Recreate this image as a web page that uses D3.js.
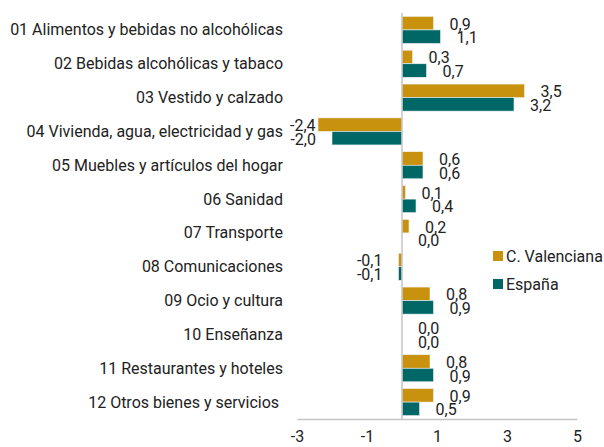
<!DOCTYPE html>
<html><head><meta charset="utf-8">
<script src="https://cdn.jsdelivr.net/npm/d3@7"></script>
<style>
body{margin:0;background:#fff;}
text{font-family:Roboto,"Noto Sans",sans-serif;fill:#222;}
</style></head>
<body>
<svg id="chart" width="604" height="447"></svg>
<script>
const categories = [
  "01 Alimentos y bebidas no alcohólicas",
  "02 Bebidas alcohólicas y tabaco",
  "03 Vestido y calzado",
  "04 Vivienda, agua, electricidad y gas",
  "05 Muebles y artículos del hogar",
  "06 Sanidad",
  "07 Transporte",
  "08 Comunicaciones",
  "09 Ocio y cultura",
  "10 Enseñanza",
  "11 Restaurantes y hoteles",
  "12 Otros bienes y servicios "
];
const seriesNames = ["C. Valenciana", "España"];
const valenciana = [0.9, 0.3, 3.5, -2.4, 0.6, 0.1, 0.2, -0.1, 0.8, 0.0, 0.8, 0.9];
const espana     = [1.1, 0.7, 3.2, -2.0, 0.6, 0.4, 0.0, -0.1, 0.9, 0.0, 0.9, 0.5];
const xTicks = [-3, -1, 1, 3, 5];
const colors = ["#C9920E", "#006767"];
const FS = 16;

const svg = d3.select("#chart");
const x = d3.scaleLinear().domain([-3, 5]).range([297, 577]);
const y = d3.scaleBand().domain(categories).range([13, 419]).paddingInner(0.2).paddingOuter(0.1);
const ys = d3.scaleBand().domain(seriesNames).range([0, y.bandwidth()]);
const fmt = v => d3.format(".1f")(v).replace(".", ",").replace("−", "-");

const data = [valenciana, espana];

// bars
seriesNames.forEach((s, si) => {
  svg.append("g").selectAll("rect").data(categories).join("rect")
    .attr("x", (c, i) => x(Math.min(0, data[si][i])))
    .attr("y", c => y(c) + ys(s))
    .attr("width", (c, i) => Math.abs(x(data[si][i]) - x(0)))
    .attr("height", ys.bandwidth())
    .attr("fill", colors[si])
    .attr("stroke", "#f2f2f2").attr("stroke-width", 0.6);
});

// zero line
svg.append("line").attr("x1", x(0)).attr("x2", x(0)).attr("y1", 13).attr("y2", 419)
  .attr("stroke", "#c4c4c4").attr("stroke-width", 1.5);

// x axis
const xAxis = d3.axisBottom(x).tickValues(xTicks).tickSize(0).tickPadding(12).tickFormat(d => String(d).replace("−","-"));
const gx = svg.append("g").attr("transform", "translate(0,419)").call(xAxis);
gx.select(".domain").attr("stroke", "#c4c4c4").attr("stroke-width", 1.5);
gx.selectAll("text").attr("font-size", FS).attr("fill", "#222").attr("font-family", "Roboto");

// category labels
svg.append("g").selectAll("text").data(categories).join("text")
  .attr("x", 283).attr("y", c => y(c) + y.bandwidth() / 2)
  .attr("text-anchor", "end").attr("dominant-baseline", "central")
  .attr("font-size", FS).style("white-space", "pre")
  .text(c => c);

// value labels
seriesNames.forEach((s, si) => {
  svg.append("g").selectAll("text").data(categories).join("text")
    .attr("y", c => y(c) + ys(s) + ys.bandwidth() / 2 + 1)
    .attr("dominant-baseline", "central")
    .attr("font-size", FS)
    .text((c, i) => fmt(data[si][i]))
    .each(function (c, i) {
      const v = data[si][i];
      const t = d3.select(this);
      if (v >= 0) {
        t.attr("x", x(v) + 16).attr("text-anchor", "start");
      } else {
        const w = this.getComputedTextLength();
        t.attr("x", Math.max(x(v) - 16, x(-3) - 7 + w)).attr("text-anchor", "end");
      }
    });
});

// legend
const lg = svg.append("g");
seriesNames.forEach((s, si) => {
  const ly = 256 + si * 28;
  lg.append("rect").attr("x", 493).attr("y", ly - 5).attr("width", 10).attr("height", 10).attr("fill", colors[si]);
  lg.append("text").attr("x", 506).attr("y", ly).attr("dominant-baseline", "central")
    .attr("font-size", FS).text(s);
});
</script>
</body></html>
